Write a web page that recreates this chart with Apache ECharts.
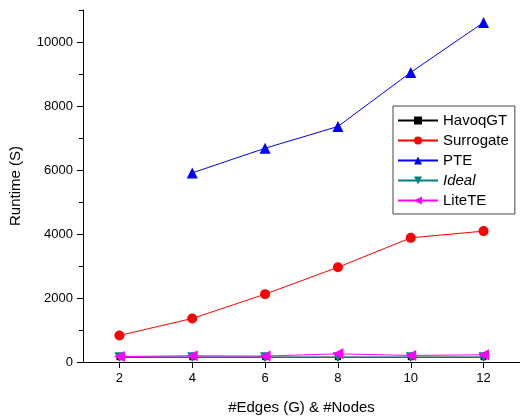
<!DOCTYPE html>
<html><head><meta charset="utf-8">
<script src="https://cdn.jsdelivr.net/npm/echarts@6/dist/echarts.min.js"></script>
<style>html,body{margin:0;padding:0;background:#fff}#c{width:520px;height:420px}</style>
</head><body><div id="c"></div>
<script>
const xValues = [2, 4, 6, 8, 10, 12];
const xTicks = [2, 4, 6, 8, 10, 12];
const yTicks = [0, 2000, 4000, 6000, 8000, 10000];
const yMinorTicks = [1000, 3000, 5000, 7000, 9000, 11000];
const havoqgt = [150, 150, 150, 150, 150, 150];
const surrogate = [830, 1360, 2120, 2960, 3880, 4090];
const pte = [null, 5910, 6680, 7360, 9050, 10610];
const ideal = [150, 150, 150, 150, 150, 150];
const litete = [170, 195, 185, 255, 205, 225];
const seriesNames = ['HavoqGT', 'Surrogate', 'PTE', 'Ideal', 'LiteTE'];

const pair = arr => xValues.map((x, i) => [x, arr[i]]);
const font = 'Liberation Sans, Arial, sans-serif';
const mk = (name, data, color, symbol, size, rot, z) => ({
  name, type: 'line', data: pair(data), symbol, symbolSize: size, symbolRotate: rot || 0,
  connectNulls: false, z: z || 2, yAxisIndex: 0,
  lineStyle: { color, width: 1 }, itemStyle: { color }
});
const chart = echarts.init(document.getElementById('c'));
chart.setOption({
  animation: false,
  backgroundColor: '#fff',
  grid: { left: 81, right: 0, top: 10, bottom: 52 },
  xAxis: {
    type: 'value', min: 1, max: 13, interval: 1,
    name: '#Edges (G) & #Nodes', nameLocation: 'middle', nameGap: 38,
    nameTextStyle: { fontFamily: font, fontSize: 15, color: '#000' },
    axisLine: { lineStyle: { color: '#000', width: 1 } },
    axisTick: { customValues: xTicks, length: 6, lineStyle: { color: '#000' } },
    axisLabel: { customValues: xTicks, fontFamily: font, fontSize: 13, color: '#000', margin: 10 },
    splitLine: { show: false }
  },
  yAxis: [{
    type: 'value', min: 0, max: 11000, interval: 1000,
    name: 'Runtime (S)', nameLocation: 'middle', nameGap: 60,
    nameTextStyle: { fontFamily: font, fontSize: 15, color: '#000' },
    axisLine: { show: true, lineStyle: { color: '#000', width: 1 } },
    axisTick: { show: true, customValues: yTicks, length: 6, lineStyle: { color: '#000' } },
    axisLabel: { customValues: yTicks, formatter: v => String(v), fontFamily: font, fontSize: 13, color: '#000', margin: 10 },
    splitLine: { show: false }
  }, {
    type: 'value', min: 0, max: 11000, interval: 1000, position: 'left',
    axisLine: { show: false },
    axisTick: { show: true, customValues: yMinorTicks, length: 4, lineStyle: { color: '#000' } },
    axisLabel: { show: false }, splitLine: { show: false }
  }],
  series: [
    mk('HavoqGT', havoqgt, '#000000', 'rect', 6, 0, 1),
    mk('Surrogate', surrogate, '#ff0000', 'circle', 10),
    mk('PTE', pte, '#0000ff', 'triangle', 11),
    mk('Ideal', ideal, '#008080', 'triangle', 10, 180, 3),
    mk('LiteTE', litete, '#ff00ff', 'triangle', 11, 90, 4)
  ],
  legend: {
    data: seriesNames, orient: 'vertical', left: 393, top: 106,
    width: 126, padding: [7, 6, 6, 4], itemGap: 5,
    itemWidth: 40, itemHeight: 10,
    borderColor: '#444', borderWidth: 1, backgroundColor: '#fff',
    formatter: n => n === 'Ideal' ? '{i|Ideal}' : n,
    textStyle: { fontFamily: font, fontSize: 15, color: '#000',
      rich: { i: { fontStyle: 'italic', fontFamily: font, fontSize: 15, color: '#000' } } }
  }
});
</script></body></html>
